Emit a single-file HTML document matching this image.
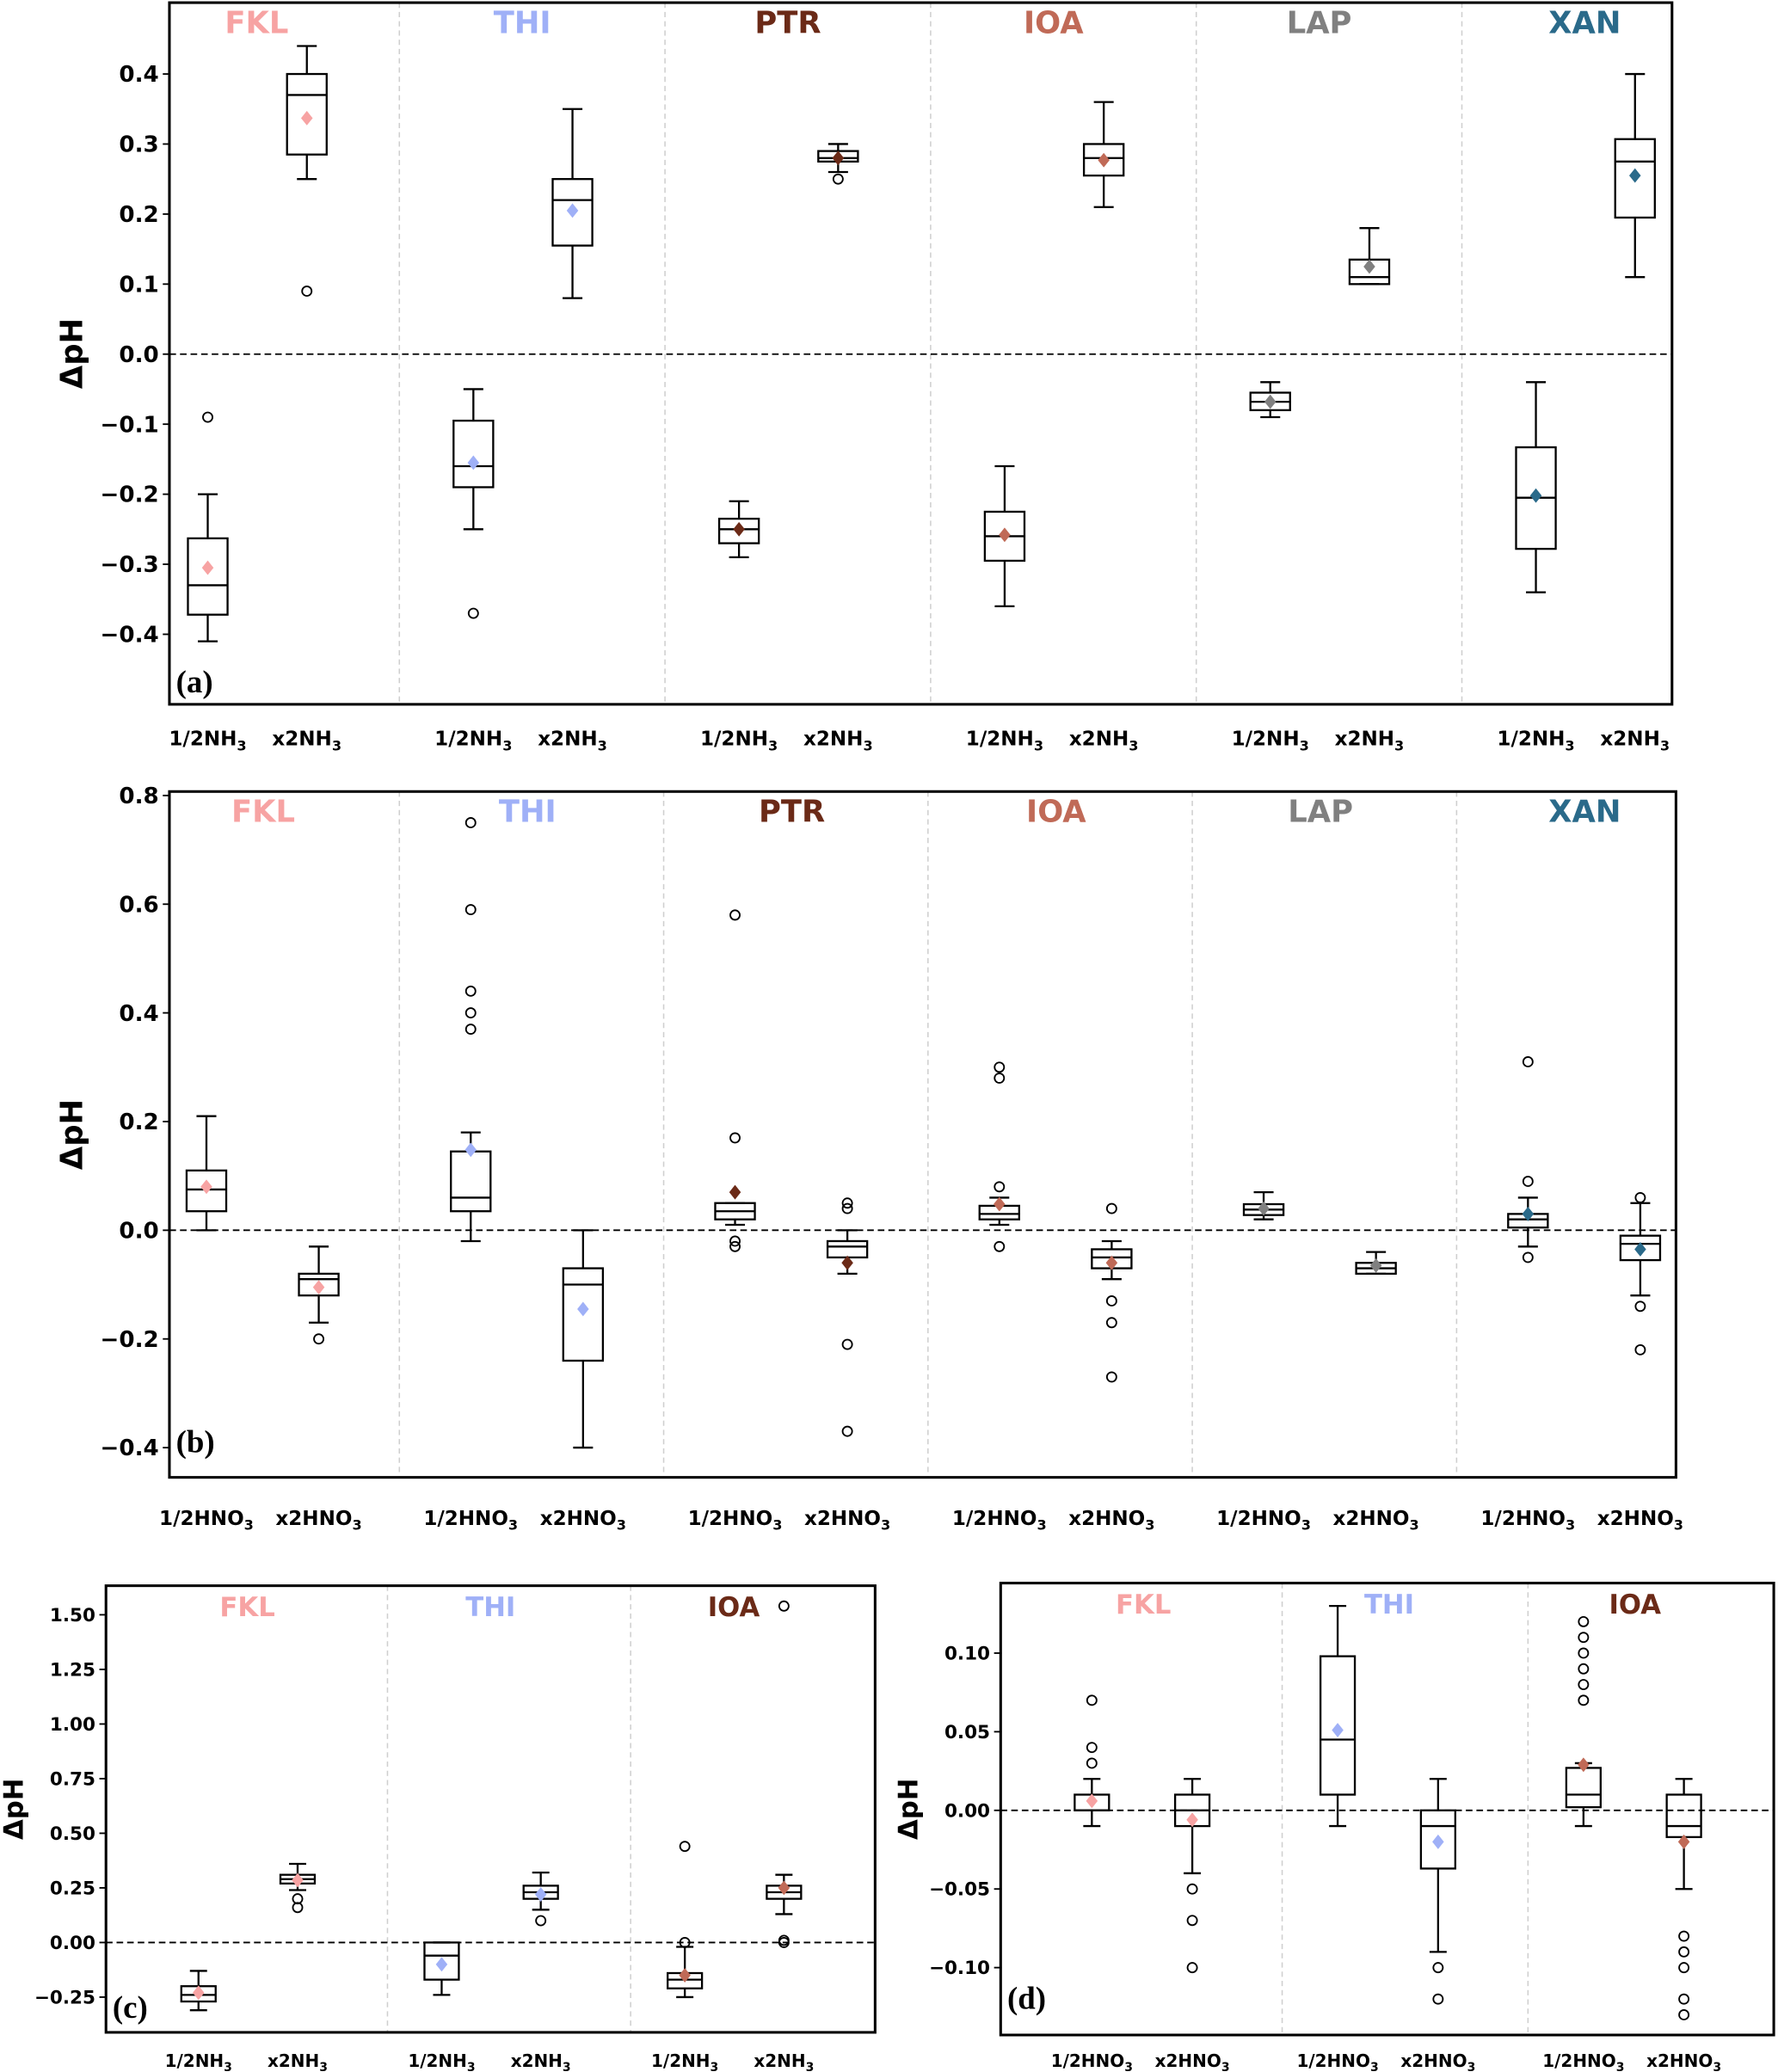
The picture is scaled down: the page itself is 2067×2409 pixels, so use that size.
<!DOCTYPE html>
<html><head><meta charset="utf-8">
<style>
html,body{margin:0;padding:0;background:#fff;}
svg{display:block;}
text{font-family:"DejaVu Sans","Liberation Sans",sans-serif;font-weight:bold;}
</style></head>
<body>
<svg id="fig" width="2067" height="2409" viewBox="0 0 1345 1568" xmlns="http://www.w3.org/2000/svg"></svg>
<script>
// ===== DATA =====
const groupNames = ["FKL","THI","PTR","IOA","LAP","XAN"];
const groupColors = ["#f7a3a3","#9fb0f7","#6b2a17","#c06a57","#808080","#2a6a8a"];
// each box: [whisLo, q1, median, q3, whisHi, mean]
const aBoxes = [
 [-0.41,-0.372,-0.33,-0.263,-0.20,-0.305],[0.25,0.285,0.37,0.40,0.44,0.337],
 [-0.25,-0.19,-0.16,-0.095,-0.05,-0.155],[0.08,0.155,0.22,0.25,0.35,0.205],
 [-0.29,-0.27,-0.25,-0.235,-0.21,-0.25],[0.26,0.275,0.28,0.29,0.30,0.28],
 [-0.36,-0.295,-0.26,-0.225,-0.16,-0.258],[0.21,0.255,0.28,0.30,0.36,0.277],
 [-0.09,-0.08,-0.068,-0.055,-0.04,-0.068],[0.10,0.10,0.11,0.135,0.18,0.125],
 [-0.34,-0.278,-0.205,-0.133,-0.04,-0.202],[0.11,0.195,0.275,0.307,0.40,0.255]];
const aFliers = [[-0.09],[0.09],[-0.37],[],[],[0.25],[],[],[],[],[],[]];
const aTicks = [-0.4,-0.3,-0.2,-0.1,0.0,0.1,0.2,0.3,0.4];
const aTickLabels = ["\u22120.4","\u22120.3","\u22120.2","\u22120.1","0.0","0.1","0.2","0.3","0.4"];

const bBoxes = [
 [0,0.035,0.075,0.11,0.21,0.08],[-0.17,-0.12,-0.09,-0.08,-0.03,-0.105],
 [-0.02,0.035,0.06,0.145,0.18,0.148],[-0.40,-0.24,-0.10,-0.07,0,-0.145],
 [0.01,0.02,0.035,0.05,0.05,0.07],[-0.08,-0.05,-0.03,-0.02,0,-0.06],
 [0.01,0.02,0.03,0.045,0.06,0.048],[-0.09,-0.07,-0.05,-0.035,-0.02,-0.06],
 [0.02,0.028,0.038,0.048,0.07,0.04],[-0.08,-0.08,-0.07,-0.06,-0.04,-0.065],
 [-0.03,0.005,0.02,0.03,0.06,0.03],[-0.12,-0.055,-0.025,-0.01,0.05,-0.035]];
const bFliers = [[],[-0.20],[0.75,0.59,0.44,0.40,0.37],[],[0.58,0.17,-0.02,-0.03],[0.05,0.04,-0.21,-0.37],
 [0.30,0.28,0.08,-0.03],[0.04,-0.13,-0.17,-0.27],[],[],[0.31,0.09,-0.05],[0.06,-0.14,-0.22]];
const bTicks = [-0.4,-0.2,0.0,0.2,0.4,0.6,0.8];
const bTickLabels = ["\u22120.4","\u22120.2","0.0","0.2","0.4","0.6","0.8"];

const cNames = ["FKL","THI","IOA"];
const cColors = ["#f7a3a3","#9fb0f7","#6b2a17"];
const cMarkColors = ["#f7a3a3","#9fb0f7","#c06a57"];
const cBoxes = [
 [-0.31,-0.27,-0.24,-0.20,-0.13,-0.23],[0.24,0.27,0.29,0.31,0.36,0.285],
 [-0.24,-0.17,-0.06,0,0,-0.10],[0.15,0.20,0.23,0.26,0.32,0.22],
 [-0.25,-0.21,-0.17,-0.14,-0.02,-0.15],[0.13,0.20,0.23,0.26,0.31,0.25]];
const cFliers = [[],[0.20,0.16],[],[0.10],[0.44,0.0],[1.54,0.01,0.0]];
const cTicks = [-0.25,0,0.25,0.5,0.75,1.0,1.25,1.5];
const cTickLabels = ["\u22120.25","0.00","0.25","0.50","0.75","1.00","1.25","1.50"];

const dBoxes = [
 [-0.01,0,0,0.01,0.02,0.006],[-0.04,-0.01,0,0.01,0.02,-0.006],
 [-0.01,0.01,0.045,0.098,0.13,0.051],[-0.09,-0.037,-0.01,0,0.02,-0.02],
 [-0.01,0.002,0.01,0.027,0.03,0.029],[-0.05,-0.017,-0.01,0.01,0.02,-0.02]];
const dFliers = [[0.07,0.04,0.03],[-0.05,-0.07,-0.10],[],[-0.10,-0.12],[0.12,0.11,0.10,0.09,0.08,0.07],[-0.08,-0.09,-0.10,-0.12,-0.13]];
const dTicks = [-0.10,-0.05,0,0.05,0.10];
const dTickLabels = ["\u22120.10","\u22120.05","0.00","0.05","0.10"];

// ===== DRAW =====
const svg = document.getElementById('fig');
const NS = "http://www.w3.org/2000/svg";
function mk(tag, attrs, parent){
  const e = document.createElementNS(NS, tag);
  for (const k in attrs) e.setAttribute(k, attrs[k]);
  (parent||svg).appendChild(e);
  return e;
}
function panel(p){
  const g = mk('g',{});
  
  
  const y = v => p.y0 + (v - p.v0) * (p.y1 - p.y0) / (p.v1 - p.v0);
  const n = p.names.length;
  for (let i=1;i<n;i++){
    const dx = p.div0 + p.step*(i-1);
    const l = mk('line',{x1:dx,x2:dx,y1:p.top,y2:p.bottom,stroke:'#cfcfcf','stroke-width':1,'stroke-dasharray':'4,3'},g);
    
    
  }
  const z = mk('line',{x1:p.left,x2:p.right,y1:y(0),y2:y(0),stroke:'#000','stroke-width':1.2,'stroke-dasharray':'5,3'},g);
  
  
  p.ticks.forEach((t,i)=>{
    mk('line',{x1:p.left-5,x2:p.left,y1:y(t),y2:y(t),stroke:'#000','stroke-width':1.2},g);
    const tx = mk('text',{x:p.left-8,y:y(t)+p.fs*0.35,'text-anchor':'end','font-size':p.fs},g);
    tx.textContent = p.tickLabels[i];
    
    
  });
  const half = p.bw/2;
  for (let gi=0; gi<n; gi++){
    const nt = mk('text',{x:p.title0+p.step*gi,y:p.top+p.titleY,'text-anchor':'middle','font-size':p.tfs,fill:p.colors[gi]},g);
    nt.textContent = p.names[gi];
    
    
    for (let k=0;k<2;k++){
      const bi = gi*2+k;
      const b = p.boxes[bi];
      const cx = p.c0 + p.step*gi + (k===0 ? 0 : p.off);
      const bg = mk('g',{},g);
      
      
      const sw=1.5;
      mk('line',{x1:cx,x2:cx,y1:y(b[0]),y2:y(b[1]),stroke:'#000','stroke-width':sw},bg);
      mk('line',{x1:cx,x2:cx,y1:y(b[3]),y2:y(b[4]),stroke:'#000','stroke-width':sw},bg);
      mk('line',{x1:cx-half/2,x2:cx+half/2,y1:y(b[0]),y2:y(b[0]),stroke:'#000','stroke-width':sw},bg);
      mk('line',{x1:cx-half/2,x2:cx+half/2,y1:y(b[4]),y2:y(b[4]),stroke:'#000','stroke-width':sw},bg);
      mk('rect',{x:cx-half,y:y(b[3]),width:p.bw,height:Math.max(0.5,y(b[1])-y(b[3])),fill:'none',stroke:'#000','stroke-width':sw},bg);
      mk('line',{x1:cx-half,x2:cx+half,y1:y(b[2]),y2:y(b[2]),stroke:'#000','stroke-width':sw},bg);
      p.fliers[bi].forEach(f=>{
        const c = mk('circle',{cx:cx,cy:y(f),r:3.6,fill:'none',stroke:'#000','stroke-width':1.2},bg);
        
        
      });
      const my = y(b[5]), d = 5.5;
      const m = mk('polygon',{points:`${cx},${my-d} ${cx+d*0.8},${my} ${cx},${my+d} ${cx-d*0.8},${my}`,fill:p.markColors[gi]},bg);
      
      
      const xl = mk('text',{x:cx,y:p.bottom+p.xlY,'text-anchor':'middle','font-size':p.xfs},g);
      
      
      const base = k===0 ? '1/2' : 'x2';
      xl.appendChild(document.createTextNode(base + p.chem));
      const sub = mk('tspan',{dy:p.xfs*0.25,'font-size':p.xfs*0.7},xl);
      sub.textContent = p.subNum;
    }
  }
  const fr = mk('rect',{x:p.left,y:p.top,width:p.right-p.left,height:p.bottom-p.top,fill:'none',stroke:'#000','stroke-width':2},g);
  
  
  const yl = mk('text',{x:p.ylx,y:(p.top+p.bottom)/2,'text-anchor':'middle','font-size':p.yfs,transform:`rotate(-90 ${p.ylx} ${(p.top+p.bottom)/2})`},g);
  yl.textContent = '\u0394pH';
  
  
  const pl = mk('text',{x:p.left+5,y:p.letterY,'font-size':24,style:'font-family:"Liberation Serif",serif;font-weight:bold'},g);
  pl.textContent = '('+p.id+')';
  
  
}

panel({id:'a',left:128,right:1265,top:2,bottom:533,y0:268,v0:0,y1:56,v1:0.4,
  names:groupNames,colors:groupColors,markColors:groupColors,boxes:aBoxes,fliers:aFliers,
  ticks:aTicks,tickLabels:aTickLabels,c0:157,off:75,step:201,div0:302,title0:194,bw:30,fs:17,tfs:23,titleY:23,
  xlY:31,xfs:15,chem:'NH',subNum:'3',ylx:62,yfs:23,letterY:524});
panel({id:'b',left:128,right:1268,top:599,bottom:1118,y0:931,v0:0,y1:602,v1:0.8,
  names:groupNames,colors:groupColors,markColors:groupColors,boxes:bBoxes,fliers:bFliers,
  ticks:bTicks,tickLabels:bTickLabels,c0:156,off:85,step:200,div0:302,title0:199,bw:30,fs:17,tfs:23,titleY:23,
  xlY:36,xfs:15,chem:'HNO',subNum:'3',ylx:62,yfs:23,letterY:1099});
panel({id:'c',left:80,right:662,top:1200,bottom:1538,y0:1470,v0:0,y1:1222,v1:1.5,
  names:cNames,colors:cColors,markColors:cMarkColors,boxes:cBoxes,fliers:cFliers,
  ticks:cTicks,tickLabels:cTickLabels,c0:150,off:75,step:184,div0:293,title0:187,bw:26,fs:14,tfs:20,titleY:23,
  xlY:26,xfs:13,chem:'NH',subNum:'3',ylx:17,yfs:20,letterY:1527});
panel({id:'d',left:757,right:1342,top:1198,bottom:1540,y0:1370,v0:0,y1:1251,v1:0.10,
  names:cNames,colors:cColors,markColors:cMarkColors,boxes:dBoxes,fliers:dFliers,
  ticks:dTicks,tickLabels:dTickLabels,c0:826,off:76,step:186,div0:970,title0:865,bw:26,fs:14,tfs:20,titleY:23,
  xlY:24,xfs:13,chem:'HNO',subNum:'3',ylx:694,yfs:20,letterY:1520});
</script>
</body></html>
